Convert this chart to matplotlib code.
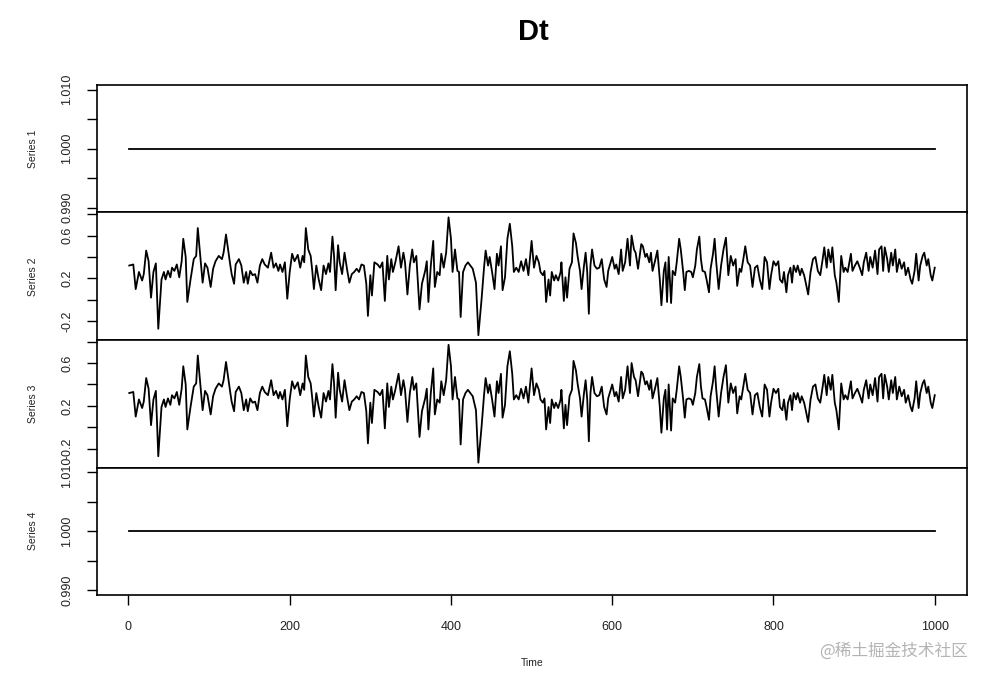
import matplotlib
matplotlib.use("Agg")
import matplotlib.pyplot as plt
import numpy as np

# --- values (time, value) ---
seg_a = [(1, 0.32), (6, 0.33), (9, 0.10), (13, 0.26), (17, 0.18), (19, 0.24), (22, 0.46), (25, 0.36),
         (28, 0.02), (31, 0.26), (34, 0.34), (37, -0.27), (41, 0.19), (44, 0.26), (46, 0.19), (49, 0.27),
         (52, 0.21), (54, 0.30), (57, 0.27), (60, 0.33), (63, 0.21), (66, 0.36), (68, 0.57), (71, 0.40),
         (73, -0.02), (77, 0.19), (81, 0.38), (84, 0.41), (86, 0.67), (89, 0.41), (92, 0.16), (95, 0.34),
         (98, 0.30), (102, 0.12), (105, 0.29), (108, 0.36), (112, 0.41), (116, 0.38), (118, 0.44),
         (121, 0.61), (123, 0.50), (126, 0.34), (128, 0.24), (131, 0.15), (133, 0.33), (137, 0.38),
         (140, 0.32), (143, 0.16), (146, 0.26), (148, 0.15), (151, 0.27), (154, 0.23), (157, 0.24),
         (160, 0.16), (163, 0.32), (166, 0.38), (169, 0.33), (173, 0.30), (177, 0.44), (180, 0.30),
         (183, 0.34), (186, 0.27), (188, 0.33), (191, 0.26), (194, 0.35), (197, 0.01), (200, 0.26),
         (203, 0.43), (206, 0.36), (210, 0.42), (213, 0.30), (216, 0.41), (218, 0.35), (220, 0.67),
         (223, 0.47), (226, 0.41), (228, 0.27), (230, 0.10), (233, 0.32), (236, 0.19), (239, 0.09),
         (242, 0.32), (245, 0.24), (248, 0.34)]

seg_b = [(250, 0.26), (253, 0.59), (255, 0.41), (257, 0.09), (260, 0.51), (262, 0.35), (265, 0.24),
         (268, 0.44), (271, 0.29), (274, 0.16), (277, 0.24), (280, 0.26), (283, 0.29), (286, 0.26),
         (289, 0.33), (292, 0.32), (295, 0.15), (297, -0.15), (300, 0.23), (302, 0.04), (305, 0.35),
         (309, 0.33), (312, 0.30), (315, 0.35), (318, -0.01), (321, 0.41), (323, 0.19), (326, 0.38),
         (328, 0.26), (331, 0.35), (335, 0.50), (338, 0.30), (341, 0.44), (343, 0.35), (346, 0.05),
         (349, 0.32), (352, 0.47), (354, 0.35), (357, 0.41), (361, -0.09), (364, 0.15), (368, 0.27),
         (370, 0.36), (372, -0.02), (375, 0.32), (378, 0.55), (380, 0.12), (383, 0.26), (386, 0.23),
         (388, 0.43), (391, 0.30), (394, 0.44), (397, 0.77), (400, 0.57), (402, 0.26), (405, 0.47),
         (408, 0.27), (410, 0.26), (412, -0.16), (415, 0.26), (418, 0.32), (421, 0.35), (424, 0.32),
         (427, 0.29), (431, 0.16), (434, -0.33), (438, 0.01), (441, 0.30), (443, 0.46), (446, 0.32),
         (448, 0.40), (451, 0.26), (454, 0.10), (457, 0.43), (459, 0.32), (462, 0.50), (464, 0.09),
         (467, 0.21), (470, 0.57), (473, 0.71), (476, 0.50), (478, 0.26), (481, 0.30), (484, 0.26),
         (487, 0.36), (490, 0.27), (493, 0.38), (496, 0.23)]

seg_c = [(499, 0.47), (500, 0.55), (503, 0.30), (506, 0.41), (509, 0.35), (511, 0.26), (514, 0.23),
         (516, 0.27), (518, -0.02), (521, 0.19), (523, 0.04), (525, 0.26), (528, 0.18), (530, 0.23),
         (533, 0.18), (536, 0.26), (537, 0.35), (540, -0.01), (542, 0.21), (544, 0.02), (547, 0.29),
         (550, 0.35), (552, 0.62), (555, 0.53), (557, 0.41), (560, 0.27), (562, 0.10), (565, 0.32),
         (567, 0.44), (569, 0.26), (571, -0.13), (573, 0.32), (575, 0.47), (578, 0.32), (581, 0.29),
         (584, 0.30), (587, 0.38), (590, 0.19), (593, 0.12), (595, 0.27), (598, 0.35), (600, 0.40),
         (603, 0.29), (605, 0.33), (608, 0.24), (611, 0.47), (613, 0.27), (616, 0.35), (619, 0.57),
         (622, 0.32), (624, 0.60), (627, 0.47), (629, 0.44), (632, 0.29), (636, 0.52), (638, 0.50),
         (641, 0.40), (643, 0.43), (646, 0.35), (648, 0.44), (650, 0.27), (653, 0.36), (656, 0.46),
         (659, 0.19), (661, -0.05), (664, 0.27), (666, 0.35), (668, -0.02), (670, 0.40), (673, -0.03),
         (675, 0.27), (678, 0.23), (680, 0.35), (683, 0.57), (685, 0.47), (688, 0.26), (690, 0.09),
         (692, 0.26), (695, 0.27), (698, 0.26), (700, 0.21), (703, 0.32), (705, 0.47), (708, 0.59),
         (710, 0.38), (712, 0.27), (715, 0.26), (717, 0.19), (720, 0.07), (722, 0.29), (725, 0.43),
         (727, 0.57), (729, 0.35), (732, 0.10), (735, 0.32), (738, 0.47)]

seg_d = [(741, 0.58), (744, 0.23), (747, 0.41), (750, 0.32), (753, 0.38), (755, 0.13), (758, 0.29),
         (760, 0.26), (763, 0.40), (765, 0.50), (768, 0.35), (771, 0.32), (774, 0.12), (777, 0.30),
         (780, 0.32), (783, 0.19), (786, 0.10), (789, 0.40), (792, 0.35), (795, 0.10), (797, 0.23),
         (800, 0.36), (803, 0.32), (806, 0.36), (808, 0.19), (811, 0.16), (813, 0.26), (816, 0.07),
         (818, 0.23), (821, 0.30), (823, 0.16), (825, 0.32), (828, 0.26), (830, 0.32), (833, 0.23),
         (835, 0.29), (838, 0.23), (840, 0.16), (843, 0.05), (846, 0.26), (849, 0.38), (852, 0.40),
         (855, 0.27), (858, 0.23), (861, 0.38), (863, 0.49), (866, 0.30), (868, 0.47), (871, 0.35),
         (873, 0.49), (876, 0.23), (878, 0.16), (881, -0.02), (884, 0.41), (887, 0.26), (889, 0.30),
         (892, 0.26), (896, 0.43), (898, 0.27), (901, 0.32), (904, 0.36), (907, 0.30), (910, 0.23),
         (912, 0.35), (915, 0.44), (918, 0.27), (920, 0.40), (923, 0.30), (926, 0.46), (929, 0.24),
         (931, 0.47), (934, 0.50), (936, 0.27), (938, 0.49), (941, 0.38), (943, 0.26), (946, 0.44),
         (948, 0.32), (951, 0.47), (953, 0.26), (956, 0.38), (959, 0.29), (962, 0.35), (964, 0.23),
         (967, 0.30), (970, 0.19), (972, 0.15), (975, 0.27), (977, 0.43), (980, 0.18), (982, 0.32),
         (985, 0.41), (987, 0.44), (990, 0.32), (992, 0.38), (995, 0.23), (997, 0.18), (1000, 0.30)]

# series 1 and 4 are flat at 1.0 over the whole span
flat_time = [1, 1000]
series1 = [1.0, 1.0]
series4 = [1.0, 1.0]

panel_names = ["Series 1", "Series 2", "Series 3", "Series 4"]
flat_ticks = [0.990, 0.995, 1.000, 1.005, 1.010]
flat_labels = ["0.990", "", "1.000", "", "1.010"]
noisy_ticks = [-0.2, 0.0, 0.2, 0.4, 0.6, 0.8]
noisy_labels = ["-0.2", "", "0.2", "", "0.6", ""]
x_ticks = [0, 200, 400, 600, 800, 1000]

plt.rcParams['font.family'] = ['Liberation Sans', 'DejaVu Sans']

noisy = np.array(seg_a + seg_b + seg_c + seg_d)
t_noisy, v_noisy = noisy[:, 0], noisy[:, 1]

W, H = 988, 682
fig = plt.figure(figsize=(W / 100, H / 100), dpi=100)
gs = fig.add_gridspec(4, 1, left=97 / W, right=967 / W, top=1 - 85 / H, bottom=1 - 595 / H, hspace=0)
axes = [fig.add_subplot(gs[i]) for i in range(4)]

panels = [(flat_time, series1), (t_noisy, v_noisy), (t_noisy, v_noisy), (flat_time, series4)]
text_col = '#222222'

for i, (ax, (t, v)) in enumerate(zip(axes, panels)):
    ax.plot(t, v, color='black', lw=1.3)
    ax.set_xlim(-39, 1040)
    if i in (0, 3):
        ax.set_ylim(0.9892, 1.0108)
        ax.set_yticks(flat_ticks)
        ax.set_yticklabels(flat_labels)
    else:
        ax.set_ylim(-0.375, 0.815)
        ax.set_yticks(noisy_ticks)
        ax.set_yticklabels(noisy_labels)
    ax.tick_params(axis='y', length=7, width=1.0, pad=10, labelsize=9, labelcolor=text_col)
    for lab in ax.get_yticklabels():
        lab.set_rotation(90)
        lab.set_va('center')
    for sp in ax.spines.values():
        sp.set_linewidth(1.2)
    if i < 3:
        ax.tick_params(axis='x', bottom=False, labelbottom=False)
    else:
        ax.set_xticks(x_ticks)
        ax.tick_params(axis='x', length=7, width=1.0, pad=12, labelsize=9, labelcolor=text_col)
    # panel label on the far left
    pos = ax.get_position()
    fig.text(33 / W, (pos.y0 + pos.y1) / 2, panel_names[i], rotation=90,
             ha='center', va='center', fontsize=7.5, color=text_col)

fig.text(533 / W, 1 - 32 / H, "Dt", ha='center', va='center', fontsize=21, fontweight='bold')
fig.text(532 / W, 1 - 663 / H, "Time", ha='center', va='center', fontsize=7.5, color=text_col)
fig.text(968 / W, 1 - 651 / H, "@稀土掘金技术社区", ha='right', va='center', fontsize=12,
         color='#b4b4b4', family=['Noto Sans CJK SC', 'DejaVu Sans'])

fig.savefig("out.png", dpi=100)
